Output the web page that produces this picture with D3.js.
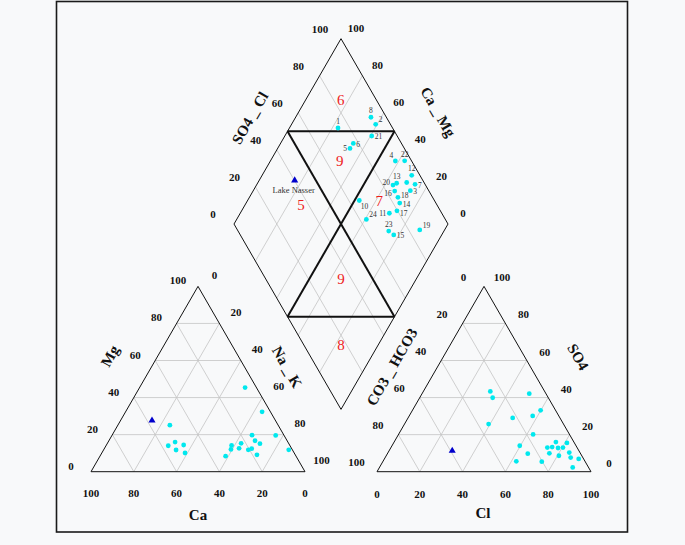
<!DOCTYPE html>
<html>
<head>
<meta charset="utf-8">
<script src="https://cdn.jsdelivr.net/npm/d3@7"></script>
<style>
  body { margin: 0; background: #f8f9fa; }
  svg text { font-family: "Liberation Serif", "Times New Roman", serif; }
</style>
</head>
<body>
<div id="piper"></div>
<script>
// cation triangle (% meq)
const catCa = [5.3, 3.9, 3.9, 1.7, 14.9, 15.0, 13.5, 22.2, 27.2, 28.6, 24.5, 20.6, 18.7, 17.9, 32.9, 50.6, 52.7, 56.9, 49.5, 54.4, 51.0];
const catMg = [45.4, 32.3, 19.6, 11.8, 19.7, 16.7, 15.1, 15.3, 14.2, 12.0, 12.6, 11.8, 12.4, 9.1, 8.4, 25.1, 16.0, 14.0, 14.4, 11.7, 10.1];
const catNaK = [49.3, 63.8, 76.5, 86.5, 65.4, 68.3, 71.4, 62.5, 58.6, 59.4, 62.9, 67.6, 68.9, 73.0, 58.7, 24.3, 31.3, 29.1, 36.1, 33.9, 38.9];

// anion triangle (% meq)
const anHCO3 = [25.4, 26.0, 35.0, 22.1, 7.8, 7.0, 12.2, 17.0, 26.3, 24.7, 32.1, 20.3, 13.9, 14.5, 11.5, 8.4, 9.0, 10.7, 6.6, 3.5, 5.0, 5.7, 2.3, 7.4];
const anSO4 = [43.3, 39.9, 25.7, 29.0, 42.1, 33.1, 30.1, 20.1, 14.0, 9.7, 5.6, 5.4, 13.0, 9.9, 13.3, 16.0, 12.8, 8.6, 13.0, 15.5, 10.3, 7.6, 6.9, 2.3];
const anCl = [31.3, 34.1, 39.3, 48.9, 50.1, 59.9, 57.7, 62.9, 59.7, 65.6, 62.3, 74.3, 73.1, 75.6, 75.2, 75.6, 78.2, 80.7, 80.4, 81.0, 84.7, 86.7, 90.8, 90.3];

// diamond
const sampleIds = ["1", "2", "3", "4", "5", "6", "7", "8", "10", "11", "12", "13", "14", "15", "16", "17", "18", "19", "20", "21", "22", "23", "24", ""];
const dmSO4Cl = [74.5, 93.1, 91.4, 92.4, 74.6, 77.5, 95.3, 92.8, 64.9, 75.5, 96.2, 87.0, 83.1, 71.7, 84.0, 79.7, 83.8, 85.2, 84.8, 88.1, 96.8, 70.4, 63.1, 91.9];
const dmCaMg = [77.3, 60.7, 26.6, 41.6, 66.2, 66.0, 26.1, 64.8, 47.8, 30.3, 30.1, 35.0, 28.2, 22.4, 33.8, 27.4, 30.6, 11.6, 36.2, 59.4, 37.3, 25.8, 39.4, 30.5];
const labelSide = ["n", "ne", "e", "nw", "w", "e", "e", "n", "se", "w", "n", "n", "e", "e", "ws", "es", "en", "ne", "wn", "e", "n", "n", "ne", ""];

// Lake Nasser reference
const lakeName = "Lake Nasser";
const lakeCation = { ca: 57.7, mg: 27.6, nak: 14.7 };
const lakeAnion = { hco3: 59.2, so4: 11.3, cl: 29.5 };
const lakeDiamond = { so4cl: 40.1, camg: 83.4 };

// water type regions
const regionText = ["6", "9", "5", "7", "9", "8"];
const regionSO4Cl = [83.3, 66.3, 36.5, 74.2, 35.3, 17.4];
const regionCaMg = [83.6, 67.5, 73.9, 38.4, 35.3, 17.4];

const ticks = [0, 20, 40, 60, 80, 100];
const grid = [20, 40, 60, 80];

const W = 685, H = 545;
const side = 214, gap = 72, baseY = 471.7;
const SIN60 = Math.sqrt(3) / 2;
const catLeft = 91, anLeft = catLeft + side + gap;
const dmBottom = [catLeft + side + gap / 2, baseY - (gap / 2) * Math.sqrt(3)];

const frac = d3.scaleLinear().domain([0, 100]).range([0, side]);

const catXY = (mg, nak) => [catLeft + frac(nak) + frac(mg) / 2, baseY - frac(mg) * SIN60];
const anXY = (so4, cl) => [anLeft + frac(cl) + frac(so4) / 2, baseY - frac(so4) * SIN60];
const dmXY = (so4cl, camg) => [dmBottom[0] + (frac(so4cl) - frac(camg)) / 2,
                               dmBottom[1] - (frac(so4cl) + frac(camg)) * SIN60];

const svg = d3.select("#piper").append("svg")
  .attr("width", W).attr("height", H);

svg.append("rect")
  .attr("x", 56.5).attr("y", 1.5).attr("width", 571).attr("height", 530.5)
  .attr("fill", "none").attr("stroke", "#1a1a1a").attr("stroke-width", 1.6);

const line = d3.line();
const gGrid = svg.append("g").attr("stroke", "#c4c4c4").attr("stroke-width", 0.8).attr("fill", "none");
const gEdge = svg.append("g").attr("stroke", "#111").attr("stroke-width", 1).attr("fill", "none");

// triangle + diamond grids
grid.forEach(k => {
  [[catXY(k, 0), catXY(k, 100 - k)], [catXY(0, k), catXY(100 - k, k)], [catXY(0, 100 - k), catXY(100 - k, 0)],
   [anXY(k, 0), anXY(k, 100 - k)], [anXY(0, k), anXY(100 - k, k)], [anXY(0, 100 - k), anXY(100 - k, 0)],
   [dmXY(k, 0), dmXY(k, 100)], [dmXY(0, k), dmXY(100, k)]]
    .forEach(seg => gGrid.append("path").attr("d", line(seg)));
});

gEdge.append("path").attr("d", line([catXY(0, 0), catXY(0, 100), catXY(100, 0)]) + "Z");
gEdge.append("path").attr("d", line([anXY(0, 0), anXY(0, 100), anXY(100, 0)]) + "Z");
gEdge.append("path").attr("d", line([dmXY(0, 0), dmXY(100, 0), dmXY(100, 100), dmXY(0, 100)]) + "Z");

// region boundaries
const gBold = svg.append("g").attr("stroke", "#111").attr("stroke-width", 2).attr("fill", "none");
[[dmXY(50, 0), dmXY(50, 100)], [dmXY(0, 50), dmXY(100, 50)],
 [dmXY(50, 100), dmXY(100, 50)], [dmXY(0, 50), dmXY(50, 0)]]
  .forEach(seg => gBold.append("path").attr("d", line(seg)));

// tick labels
function tickLabels(posFn, dx, dy) {
  svg.append("g").selectAll("text").data(ticks).join("text")
    .attr("x", d => posFn(d)[0] + dx)
    .attr("y", d => posFn(d)[1] + dy)
    .attr("text-anchor", "middle").attr("dominant-baseline", "central")
    .attr("font-size", 11).attr("font-weight", "bold").attr("fill", "#111")
    .text(d => d);
}
tickLabels(k => catXY(0, 100 - k), 0, 21);
tickLabels(k => catXY(k, 0), -20, -6);
tickLabels(k => catXY(100 - k, k), 16.5, -11.5);
tickLabels(k => anXY(0, k), 0, 22);
tickLabels(k => anXY(100 - k, 0), -20.5, -9.5);
tickLabels(k => anXY(k, 100 - k), 18, -9);
tickLabels(k => dmXY(k, 100), -21, -10);
tickLabels(k => dmXY(100, k), 15, -11);

// axis titles
const titles = [
  { t: "Mg", x: 110, y: 356, r: -60 },
  { t: "Na _ K", x: 287, y: 367, r: 60 },
  { t: "Ca", x: 198, y: 515, r: 0 },
  { t: "CO3 _ HCO3", x: 392, y: 367, r: -60 },
  { t: "SO4", x: 578, y: 357, r: 60 },
  { t: "Cl", x: 483, y: 513, r: 0 },
  { t: "SO4 _ Cl", x: 250, y: 118, r: -60 },
  { t: "Ca _ Mg", x: 438, y: 112, r: 60 }
];
svg.append("g").selectAll("text").data(titles).join("text")
  .attr("transform", d => `translate(${d.x},${d.y}) rotate(${d.r})`)
  .attr("text-anchor", "middle").attr("dominant-baseline", "central")
  .attr("font-size", 15).attr("font-weight", "bold").attr("fill", "#111")
  .text(d => d.t);

// region numbers
svg.append("g").selectAll("text").data(regionText).join("text")
  .attr("x", (d, i) => dmXY(regionSO4Cl[i], regionCaMg[i])[0])
  .attr("y", (d, i) => dmXY(regionSO4Cl[i], regionCaMg[i])[1])
  .attr("text-anchor", "middle").attr("dominant-baseline", "central")
  .attr("font-size", 15).attr("fill", "#ee1c1c")
  .text(d => d);

// sample points
const cyan = "#00e8ee";
const gPts = svg.append("g").attr("fill", cyan);
catCa.forEach((ca, i) => {
  const [x, y] = catXY(catMg[i], catNaK[i]);
  gPts.append("circle").attr("cx", x).attr("cy", y).attr("r", 2.4);
});
anHCO3.forEach((hc, i) => {
  const [x, y] = anXY(anSO4[i], anCl[i]);
  gPts.append("circle").attr("cx", x).attr("cy", y).attr("r", 2.4);
});
dmSO4Cl.forEach((s, i) => {
  const [x, y] = dmXY(s, dmCaMg[i]);
  gPts.append("circle").attr("cx", x).attr("cy", y).attr("r", 2.4);
});

// label placement around a point
const sideOff = {
  n: [0, -6.5, "middle"], ne: [3, -4.5, "start"], e: [3, 1, "start"], en: [3, -2, "start"],
  es: [3, 3, "start"], se: [1.5, 6, "start"], w: [-3, 0.5, "end"], wn: [-3, -2.5, "end"],
  ws: [-3, 2.5, "end"], nw: [-2, -5.5, "end"]
};
const labelled = sampleIds.map((id, i) => ({ id, i })).filter(d => d.id !== "");
svg.append("g").selectAll("text").data(labelled).join("text")
  .attr("x", d => dmXY(dmSO4Cl[d.i], dmCaMg[d.i])[0] + sideOff[labelSide[d.i]][0])
  .attr("y", d => dmXY(dmSO4Cl[d.i], dmCaMg[d.i])[1] + sideOff[labelSide[d.i]][1])
  .attr("text-anchor", d => sideOff[labelSide[d.i]][2])
  .attr("dominant-baseline", "central")
  .attr("font-size", 7.5).attr("fill", "#333")
  .text(d => d.id);

// Lake Nasser markers
const tri = d3.symbol().type(d3.symbolTriangle).size(22);
[catXY(lakeCation.mg, lakeCation.nak), anXY(lakeAnion.so4, lakeAnion.cl), dmXY(lakeDiamond.so4cl, lakeDiamond.camg)]
  .forEach(([x, y]) => {
    svg.append("path").attr("d", tri).attr("transform", `translate(${x},${y})`).attr("fill", "#0000cc");
  });
const lp = dmXY(lakeDiamond.so4cl, lakeDiamond.camg);
svg.append("text")
  .attr("x", lp[0] - 1).attr("y", lp[1] + 10)
  .attr("text-anchor", "middle").attr("dominant-baseline", "central")
  .attr("font-size", 8.5).attr("fill", "#333")
  .text(lakeName);
</script>
</body>
</html>
